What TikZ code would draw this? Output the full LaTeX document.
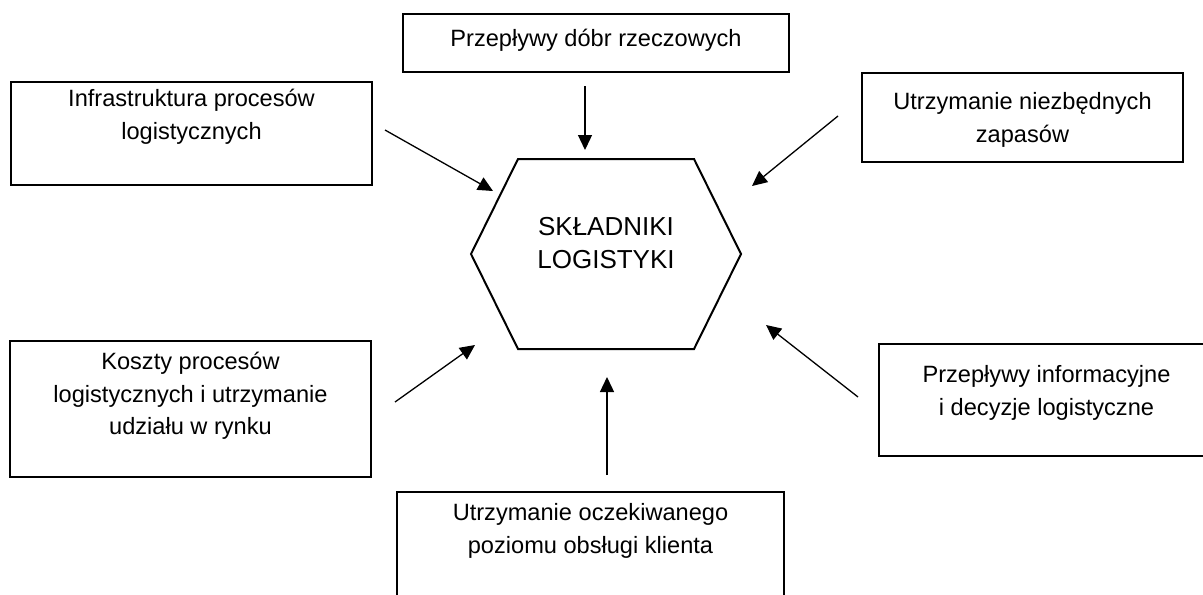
\documentclass[tikz,border=0pt]{standalone}
\usepackage{fontspec}
\setmainfont{Liberation Sans}
\usetikzlibrary{arrows.meta}

\begin{document}
\begin{tikzpicture}[x=0.5pt, y=-0.5pt,
  box/.style={rectangle, draw=black, line width=1pt, inner sep=0pt},
  lbl/.style={anchor=north, align=center, inner sep=0pt,
    font=\fontsize{11.8}{16.25}\selectfont},
  hexa/.style={draw=black, line width=1pt, line join=miter},
  arr/.style={-{Triangle[length=7.5pt, width=7pt]}, line width=0.65pt},
]
\useasboundingbox (0,0) rectangle (1203,594);

% frames
\node[box, minimum width=193pt, minimum height=29pt] (b-dobra) at (596,43) {};
\node[box, minimum width=180.5pt, minimum height=51.5pt] (b-infra) at (191.5,133.5) {};
\node[box, minimum width=160.5pt, minimum height=44.5pt] (b-zapasy) at (1022.5,117.5) {};
\node[box, minimum width=180.5pt, minimum height=68pt] (b-koszty) at (190.5,409) {};
\node[box, minimum width=167.5pt, minimum height=56pt] (b-info) at (1046.5,400) {};
\node[box, minimum width=193.5pt, minimum height=64pt] (b-obsluga) at (590.5,556) {};

\node[lbl] (t-dobra) at (596,29) {Przepływy dóbr rzeczowych};
\node[lbl] (t-infra) at (191.5,89) {Infrastruktura procesów\\logistycznych};
\node[lbl] (t-zapasy) at (1022.5,92) {Utrzymanie niezbędnych\\zapasów};
\node[lbl] (t-koszty) at (190.5,352) {Koszty procesów\\logistycznych i utrzymanie\\udziału w rynku};
\node[lbl] (t-info) at (1046.5,365) {Przepływy informacyjne\\i decyzje logistyczne};
\node[lbl] (t-obsluga) at (590.5,503) {Utrzymanie oczekiwanego\\poziomu obsługi klienta};

% centre
\draw[hexa] (518,159) -- (694,159) -- (741,254) -- (694,349) -- (518,349) -- (471,254) -- cycle;
\node[align=center, font=\fontsize{13}{16.5}\selectfont] (hub) at (606,243) {SKŁADNIKI\\LOGISTYKI};

\coordinate (s-dobra) at (585,86);    \coordinate (e-dobra) at (585,150);
\coordinate (s-infra) at (385,130);   \coordinate (e-infra) at (493,191);
\coordinate (s-zapasy) at (838,116);  \coordinate (e-zapasy) at (752,186);
\coordinate (s-koszty) at (395,402);  \coordinate (e-koszty) at (475,345);
\coordinate (s-info) at (858,397);    \coordinate (e-info) at (766,325);
\coordinate (s-obsluga) at (607,475); \coordinate (e-obsluga) at (607,377);

\draw[arr] (s-dobra) -- (e-dobra);
\draw[arr] (s-infra) -- (e-infra);
\draw[arr] (s-zapasy) -- (e-zapasy);
\draw[arr] (s-koszty) -- (e-koszty);
\draw[arr] (s-info) -- (e-info);
\draw[arr] (s-obsluga) -- (e-obsluga);

\end{tikzpicture}
\end{document}
